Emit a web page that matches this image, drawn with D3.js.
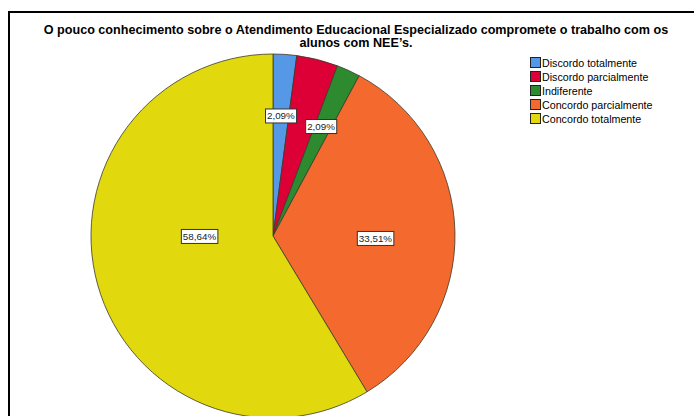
<!DOCTYPE html>
<html><head><meta charset="utf-8">
<script src="https://cdn.jsdelivr.net/npm/d3@7"></script>
<style>body{margin:0;background:#fff}svg{display:block}</style>
</head><body><svg id="c" width="694" height="416"></svg>
<script>
const categories = ["Discordo totalmente","Discordo parcialmente","Indiferente","Concordo parcialmente","Concordo totalmente"];
const values = [2.09, 3.67, 2.09, 33.51, 58.64];
const showLabel = [true, false, true, true, true];
const colors = ["#5598e6","#dc0036","#2e8a2e","#f4692d","#e2d80e"];
const labelRadius = [0.661, 0.6, 0.657, 0.563, 0.404];
const labelAngleShift = [0, 0, -0.8, 2.8, 15.2];
const title = ["O pouco conhecimento sobre o Atendimento Educacional Especializado compromete o trabalho com os","alunos com NEE\u2019s."];

const svg = d3.select("#c");
const font = "'Liberation Sans', Arial, sans-serif";

// frame
svg.append("rect").attr("x",9).attr("y",12).attr("width",700).attr("height",420)
  .attr("fill","none").attr("stroke","#000").attr("stroke-width",2);

// title
svg.append("g").selectAll("text").data(title).join("text")
  .attr("x",356).attr("y",(d,i)=>34+i*13)
  .attr("text-anchor","middle").attr("font-family",font).attr("font-weight","bold")
  .attr("font-size",12.6).attr("fill","#000").text(d=>d);

const cx = 273, cy = 236, R = 182;
const data = categories.map((c,i)=>({c, v:values[i], i}));
const pie = d3.pie().value(d=>d.v).sort(null);
const arcs = pie(data);
const arc = d3.arc().innerRadius(0).outerRadius(R);
const color = d3.scaleOrdinal().domain(categories).range(colors);

const g = svg.append("g").attr("transform",`translate(${cx},${cy})`);
g.selectAll("path").data(arcs).join("path")
  .attr("d",arc).attr("fill",d=>color(d.data.c))
  .attr("stroke","#3a3a2a").attr("stroke-width",0.8);

// labels
const lg = g.selectAll("g.lab").data(arcs.filter(d=>showLabel[d.data.i])).join("g").attr("class","lab")
  .attr("transform",d=>{
    const a = (d.startAngle+d.endAngle)/2 + labelAngleShift[d.data.i]*Math.PI/180;
    const r = R*labelRadius[d.data.i];
    return `translate(${r*Math.sin(a)},${-r*Math.cos(a)})`;
  });
lg.each(function(d){
  const s = d3.select(this);
  const t = s.append("text").attr("text-anchor","middle").attr("dy","0.35em")
    .attr("font-family",font).attr("font-size",9.8).attr("fill","#222")
    .text(d3.format(".2f")(d.data.v).replace(".",",")+"%");
  const bb = t.node().getBBox();
  s.insert("rect","text").attr("x",bb.x-1.5).attr("y",-7).attr("width",bb.width+3).attr("height",14)
    .attr("fill","#fff").attr("stroke","#333").attr("stroke-width",1);
});

// legend
const leg = svg.append("g").attr("transform","translate(530,57)");
const li = leg.selectAll("g").data(categories).join("g").attr("transform",(d,i)=>`translate(0,${i*14})`);
li.append("rect").attr("x",0.5).attr("y",0.5).attr("width",10).attr("height",10)
  .attr("fill",d=>color(d)).attr("stroke","#222").attr("stroke-width",1);
li.append("text").attr("x",12).attr("y",9.5).attr("font-family",font).attr("font-size",10.7)
  .attr("fill","#000").text(d=>d);
</script></body></html>
